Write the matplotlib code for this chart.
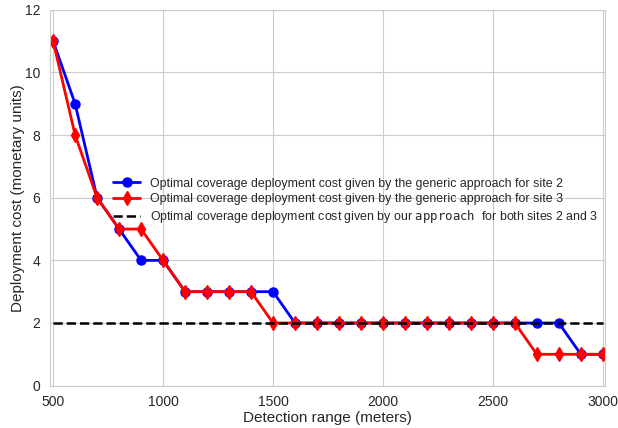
import numpy as np
import matplotlib.pyplot as plt
import seaborn as sns

sns.set_style("whitegrid")
plt.rcParams['font.family'] = ['Liberation Sans', 'DejaVu Sans']

ranges = [500, 600, 700, 800, 900, 1000, 1100, 1200, 1300, 1400, 1500, 1600, 1700,
          1800, 1900, 2000, 2100, 2200, 2300, 2400, 2500, 2600, 2700, 2800, 2900, 3000]
cost_site2 = [11, 9, 6, 5, 4, 4, 3, 3, 3, 3, 3, 2, 2, 2, 2, 2, 2, 2, 2, 2, 2, 2, 2, 2, 1, 1]
cost_site3 = [11, 8, 6, 5, 5, 4, 3, 3, 3, 3, 2, 2, 2, 2, 2, 2, 2, 2, 2, 2, 2, 2, 1, 1, 1, 1]
cost_ours = [2] * len(ranges)

fig = plt.figure(figsize=(6.18, 4.28), dpi=100)
ax = fig.add_axes([0.081, 0.099, 0.898, 0.878])

ax.plot(ranges, cost_site2, 'b-o', lw=2, ms=6.5,
        label='Optimal coverage deployment cost given by the generic approach for site 2')
ax.plot(ranges, cost_site3, 'r-d', lw=2, ms=7,
        label='Optimal coverage deployment cost given by the generic approach for site 3')
ax.plot(ranges, cost_ours, 'k--', lw=1.8,
        label=r'Optimal coverage deployment cost given by our $\mathtt{approach}$  for both sites 2 and 3')

ax.set_xlim(486, 3010)
ax.set_ylim(0, 12)
ax.set_xticks([500, 1000, 1500, 2000, 2500, 3000])
ax.set_yticks(np.arange(0, 13, 2))
ax.tick_params(labelsize=10)
ax.set_xlabel('Detection range (meters)', fontsize=11, labelpad=1)
ax.set_ylabel('Deployment cost (monetary units)', fontsize=11, labelpad=0)
ax.legend(loc='center left', bbox_to_anchor=(0.1135, 0.49), frameon=False, fontsize=8.9,
          handlelength=2.2, labelspacing=0.28, borderpad=0, borderaxespad=0)

fig.savefig('out.png', dpi=100)
